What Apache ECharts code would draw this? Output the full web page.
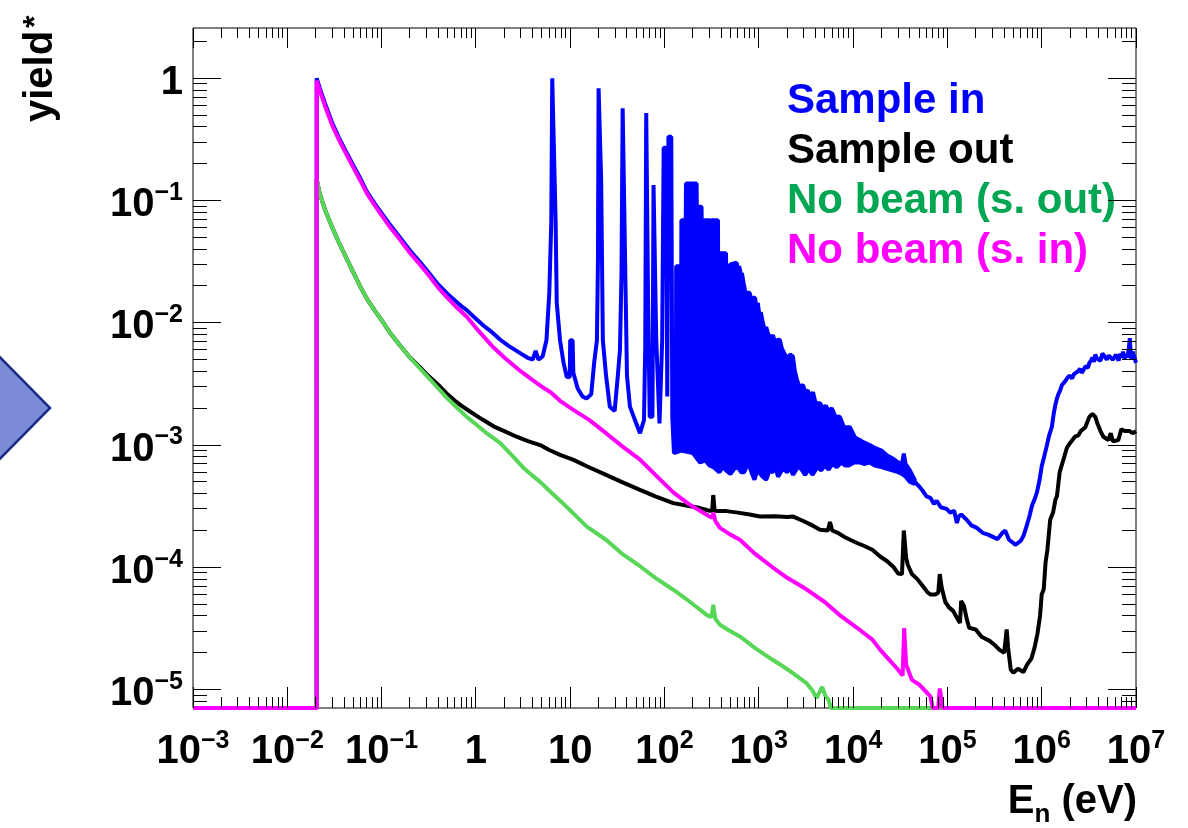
<!DOCTYPE html>
<html>
<head>
<meta charset="utf-8">
<script src="https://cdn.jsdelivr.net/npm/echarts@6/dist/echarts.min.js"></script>
<style>
html,body{margin:0;padding:0;background:#fff;}
#chart{width:1188px;height:828px;}
</style>
</head>
<body>
<div id="chart"></div>
<script>
// ---- axis ranges & tick decades ----
const X_MIN = 1e-3, X_MAX = 1e7;
const Y_MIN = 7.06e-6, Y_MAX = 2.58;   // empty bins are drawn on the axis floor (Y_MIN)
const X_DECADES = [-3, -2, -1, 0, 1, 2, 3, 4, 5, 6, 7];
const Y_DECADES = [-6, -5, -4, -3, -2, -1, 0];

// ---- legend names ----
const NAMES = ['Sample in', 'Sample out', 'No beam (s. out)', 'No beam (s. in)'];

// ---- series data: [E (eV), yield] ----
// Sample in: thermal part and resolved resonances
const SAMPLE_IN_LOW = [
 [1e-3, Y_MIN], [0.0205, Y_MIN], [0.0205, 1.0],
 [0.022, 0.84], [0.025, 0.63], [0.03, 0.43], [0.035, 0.33], [0.04, 0.27], [0.05, 0.195], [0.06, 0.15],
 [0.07, 0.118], [0.085, 0.094], [0.1, 0.079], [0.12, 0.065], [0.15, 0.052], [0.2, 0.039], [0.25, 0.032],
 [0.3, 0.027], [0.4, 0.0205], [0.5, 0.0172], [0.6, 0.0152], [0.7, 0.0137], [0.8, 0.0127], [1.0, 0.0108],
 [1.2, 0.0095], [1.5, 0.0083], [1.8, 0.0073], [2.2, 0.0065], [2.6, 0.006], [3.0, 0.0056], [3.5, 0.0052],
 [4.0, 0.0050], [4.3, 0.0059], [4.6, 0.0050], [5.1, 0.0053], [5.6, 0.0072], [6.0, 0.0175], [6.3, 0.067],
 [6.45, 1.0], [6.75, 1.0], [7.0, 0.07], [7.2, 0.0146], [7.8, 0.0072], [8.5, 0.0047], [9.2, 0.0036],
 [9.9, 0.0036], [10.0, 0.0072], [10.6, 0.0072], [10.8, 0.0039], [12.0, 0.0029], [13.5, 0.0025],
 [14.9, 0.0024], [16.7, 0.0026], [18.0, 0.0048], [19.2, 0.0072], [19.7, 0.033], [20.0, 0.83], [20.6, 0.83],
 [21.3, 0.148], [22.2, 0.0072], [24, 0.0037], [26.3, 0.00206], [29.6, 0.0019], [32, 0.0037], [33.7, 0.006],
 [35, 0.0255], [36, 0.57], [37, 0.57], [38.6, 0.02], [40, 0.0037], [43, 0.00206], [48.6, 0.0016],
 [55, 0.00125], [60.6, 0.0016], [62.5, 0.0065], [64, 0.52], [65.5, 0.52], [67, 0.0146], [69.7, 0.0017],
 [74.5, 0.0017], [76.5, 0.134], [78.5, 0.134], [81.8, 0.0072], [88.5, 0.0015], [94.5, 0.0072],
 [98, 0.27], [104, 0.27], [107, 0.0025], [110, 0.333], [118, 0.333], [121, 0.0017], [126, 0.00086]
];
// Sample in: unresolved-resonance forest, upper envelope and lower floor
const FOREST_TOP = [
 [126, 0.0017], [132, 0.0017], [133, 0.029], [145, 0.029], [146, 0.009], [150, 0.009], [151, 0.069],
 [168, 0.069], [169, 0.138], [219, 0.138], [220, 0.089], [247, 0.089], [248, 0.069], [305, 0.069],
 [306, 0.006], [314, 0.006], [315, 0.069], [369, 0.069], [370, 0.037], [449, 0.037], [450, 0.027],
 [500, 0.03], [582, 0.031], [600, 0.027], [620, 0.029], [645, 0.025], [663, 0.0255], [690, 0.021],
 [713, 0.0186], [740, 0.0165], [770, 0.0178], [805, 0.0174], [840, 0.0145], [870, 0.016], [912, 0.016],
 [940, 0.0135], [977, 0.0145], [1010, 0.0118], [1050, 0.0122], [1107, 0.0099], [1150, 0.0089],
 [1200, 0.0092], [1250, 0.0082], [1320, 0.0074], [1413, 0.0079], [1500, 0.0068], [1600, 0.0073],
 [1676, 0.0072], [1750, 0.0062], [1893, 0.0055], [2000, 0.005], [2139, 0.0055], [2301, 0.0053],
 [2400, 0.0041], [2541, 0.0034], [2700, 0.003], [2943, 0.0031], [3100, 0.0027], [3311, 0.0028],
 [3500, 0.0025], [3758, 0.0027], [4000, 0.0022], [4463, 0.0022], [4800, 0.002], [5129, 0.0021],
 [5500, 0.0019], [5956, 0.002], [6500, 0.0017], [7244, 0.0017], [8000, 0.0014], [9247, 0.0014],
 [10500, 0.00115], [11750, 0.0011], [13000, 0.00105], [15000, 0.001], [17000, 0.00095], [20000, 0.0009],
 [23000, 0.00082], [26000, 0.00078], [30000, 0.00072], [33000, 0.0007], [34500, 0.00085], [36000, 0.0007],
 [40000, 0.00062], [45000, 0.00052]
];
const FOREST_FLOOR = [
 [126, 0.00086], [150, 0.0009], [200, 0.00086], [238, 0.00072], [270, 0.00075], [300, 0.00068],
 [329, 0.00066], [380, 0.0006], [420, 0.00066], [450, 0.00062], [500, 0.00058], [550, 0.00064],
 [600, 0.00066], [650, 0.0006], [700, 0.0006], [750, 0.00068], [800, 0.00066], [850, 0.00058],
 [900, 0.00052], [950, 0.0006], [1000, 0.0006], [1100, 0.00055], [1200, 0.00052], [1300, 0.00062],
 [1400, 0.0006], [1500, 0.00066], [1600, 0.00055], [1800, 0.00064], [2000, 0.0006], [2150, 0.00066],
 [2300, 0.00057], [2600, 0.00066], [2800, 0.00064], [3100, 0.00057], [3400, 0.00064], [3700, 0.00057],
 [4200, 0.00066], [4600, 0.00062], [5000, 0.00068], [5500, 0.00063], [6000, 0.0007], [6700, 0.00066],
 [7500, 0.00072], [8200, 0.00068], [9000, 0.00068], [10200, 0.00072], [11750, 0.00072], [13000, 0.0007],
 [15000, 0.00072], [17000, 0.00068], [20000, 0.00066], [23000, 0.00064], [26000, 0.00062], [30000, 0.0006],
 [33000, 0.00058], [36000, 0.00055], [40000, 0.0005], [45000, 0.00048]
];
// Sample in: fast-neutron part
const SAMPLE_IN_HIGH = [
 [45000, 0.0005], [50000, 0.00046], [55000, 0.00042], [60000, 0.00038],
 [66000, 0.00037], [72000, 0.00033], [77000, 0.00035], [85000, 0.00031], [98000, 0.0003], [107000, 0.00028],
 [118000, 0.00029], [126000, 0.00023], [132000, 0.00026], [140000, 0.00027], [160000, 0.000245],
 [180000, 0.00022], [205000, 0.00021], [240000, 0.00019], [270000, 0.000185], [300000, 0.000178],
 [340000, 0.00017], [380000, 0.00019], [410000, 0.0002], [450000, 0.000168], [490000, 0.00016],
 [524000, 0.000153], [560000, 0.000158], [600000, 0.000165], [640000, 0.00018], [690000, 0.000216],
 [740000, 0.00026], [790000, 0.00032], [840000, 0.00036], [890000, 0.00041], [950000, 0.00052],
 [1000000, 0.00067], [1060000, 0.0008], [1130000, 0.00098], [1200000, 0.0012], [1280000, 0.0014],
 [1340000, 0.0018], [1390000, 0.0021], [1450000, 0.0024], [1500000, 0.0026], [1570000, 0.0028],
 [1640000, 0.0031], [1700000, 0.0032], [1760000, 0.0033], [1820000, 0.0034], [1900000, 0.0036],
 [2000000, 0.0037], [2100000, 0.0035], [2200000, 0.0038], [2300000, 0.0037], [2420000, 0.0040],
 [2550000, 0.0042], [2650000, 0.0039], [2770000, 0.0041], [2900000, 0.0044], [3000000, 0.0045],
 [3100000, 0.0043], [3200000, 0.0047], [3330000, 0.0049], [3450000, 0.0052], [3580000, 0.0048],
 [3700000, 0.0055], [3850000, 0.0051], [4000000, 0.0052], [4200000, 0.0049], [4400000, 0.0056],
 [4650000, 0.0053], [4900000, 0.005], [5150000, 0.0054], [5400000, 0.0055], [5650000, 0.005],
 [5900000, 0.0052], [6100000, 0.0055], [6300000, 0.0053], [6550000, 0.0049], [6800000, 0.0056],
 [7050000, 0.0052], [7300000, 0.0058], [7600000, 0.0051], [7900000, 0.0055], [8150000, 0.0052],
 [8400000, 0.0062], [8600000, 0.0075], [8800000, 0.0054], [9000000, 0.005], [9200000, 0.0058],
 [9400000, 0.0056], [9700000, 0.0051], [10000000, 0.0047]
];

const SAMPLE_OUT = [
 [1e-3, Y_MIN], [0.0205, Y_MIN], [0.0205, 0.15], [0.022, 0.115], [0.025, 0.085], [0.03, 0.06], [0.035, 0.046],
 [0.04, 0.037], [0.05, 0.026], [0.06, 0.0195], [0.07, 0.0157], [0.085, 0.0125], [0.1, 0.0105], [0.12, 0.0085],
 [0.15, 0.0068], [0.2, 0.0052], [0.25, 0.0044], [0.3, 0.0038], [0.4, 0.0031], [0.5, 0.0026], [0.6, 0.0023],
 [0.7, 0.0021], [0.85, 0.0019], [1.0, 0.00175], [1.2, 0.0016], [1.6, 0.0014], [2.0, 0.0013], [2.7, 0.00117],
 [3.5, 0.00108], [4.8, 0.001], [6.0, 0.00091], [7.8, 0.00083], [10.7, 0.00076], [15, 0.00067], [24, 0.00057],
 [35, 0.0005], [55, 0.00043], [80, 0.00038], [124, 0.000335], [170, 0.00032], [238, 0.000305], [300, 0.00029],
 [320, 0.00029], [329, 0.00039], [340, 0.00029], [380, 0.000288], [455, 0.000288], [600, 0.00028],
 [800, 0.00027], [1030, 0.00026], [1500, 0.000262], [2000, 0.000258], [2320, 0.00026], [3000, 0.000238],
 [3700, 0.00022], [4460, 0.000203], [5400, 0.0002], [5690, 0.000235], [6000, 0.0002], [7000, 0.00019],
 [8000, 0.000178], [9300, 0.000168], [11000, 0.000158], [13000, 0.00015], [16000, 0.000139],
 [19500, 0.000122], [23000, 0.000112], [27000, 0.0001], [30000, 0.000089], [33000, 0.000088],
 [34500, 0.0002], [36500, 0.00012], [38000, 0.000105], [42000, 0.000088], [48000, 0.00008], [55000, 0.00007],
 [62000, 0.000062], [66000, 0.00006], [75000, 0.00006], [80000, 0.000062], [83000, 0.000088],
 [87000, 0.000068], [95000, 0.000052], [104000, 0.000047], [115000, 0.000044], [130000, 0.000037],
 [136000, 0.000035], [140000, 0.000053], [150000, 0.000048], [160000, 0.000038], [170000, 0.000032],
 [200000, 0.000031], [230000, 0.000027], [280000, 0.000025], [320000, 0.000023], [360000, 0.000021],
 [400000, 0.00002], [425000, 0.000031], [440000, 0.000022], [470000, 0.0000145], [500000, 0.0000137],
 [560000, 0.0000148], [640000, 0.0000139], [700000, 0.000016], [780000, 0.000018], [840000, 0.000022],
 [900000, 0.0000284], [960000, 0.00004], [1000000, 0.00006], [1050000, 0.000066], [1100000, 0.00011],
 [1150000, 0.00014], [1230000, 0.000245], [1320000, 0.00028], [1400000, 0.00036], [1450000, 0.00038],
 [1550000, 0.0006], [1700000, 0.00076], [1850000, 0.00095], [2000000, 0.00104], [2250000, 0.00117],
 [2450000, 0.0012], [2600000, 0.0013], [2900000, 0.0014], [3200000, 0.0017], [3450000, 0.0018],
 [3700000, 0.0017], [3900000, 0.0015], [4200000, 0.0013], [4500000, 0.00117], [5100000, 0.0011],
 [5400000, 0.00125], [5700000, 0.00107], [6500000, 0.0011], [7000000, 0.00135], [7600000, 0.0013],
 [8500000, 0.0013], [9300000, 0.00125], [10000000, 0.0013]
];

const NO_BEAM_OUT = [
 [1e-3, Y_MIN], [0.0205, Y_MIN], [0.0205, 0.15], [0.022, 0.115], [0.025, 0.085], [0.03, 0.06], [0.035, 0.046],
 [0.04, 0.037], [0.05, 0.026], [0.06, 0.0195], [0.07, 0.0157], [0.085, 0.0125], [0.1, 0.0105], [0.12, 0.0085],
 [0.15, 0.0068], [0.2, 0.0052], [0.25, 0.0043], [0.3, 0.0037], [0.4, 0.0029], [0.5, 0.0024], [0.62, 0.00205],
 [0.8, 0.0017], [1.0, 0.00148], [1.3, 0.00125], [1.8, 0.00104], [2.5, 0.0008], [3.2, 0.00065], [4.0, 0.00056],
 [4.8, 0.0005], [6.5, 0.0004], [8.5, 0.00033], [10.7, 0.000277], [15, 0.000215], [24, 0.000168], [35, 0.00013],
 [55, 0.000102], [80, 0.000082], [124, 0.0000655], [170, 0.000055], [215, 0.0000478], [280, 0.0000408],
 [315, 0.000039], [329, 0.0000493], [345, 0.000038], [387, 0.0000339], [500, 0.00003], [630, 0.0000272],
 [900, 0.000022], [1400, 0.0000175], [1800, 0.0000155], [2300, 0.0000136], [3200, 0.0000113],
 [3700, 0.0000098], [4100, 0.0000085], [4400, 0.0000095], [4700, 0.0000105], [5100, 0.0000088],
 [5500, 0.0000082], [5800, Y_MIN], [10000000, Y_MIN]
];

const NO_BEAM_IN = [
 [1e-3, Y_MIN], [0.0205, Y_MIN], [0.0205, 0.96], [0.022, 0.8], [0.025, 0.6], [0.03, 0.41], [0.035, 0.318],
 [0.04, 0.26], [0.05, 0.187], [0.06, 0.144], [0.07, 0.114], [0.085, 0.091], [0.1, 0.076], [0.12, 0.062],
 [0.15, 0.05], [0.2, 0.0372], [0.25, 0.0305], [0.3, 0.0258], [0.4, 0.0193], [0.5, 0.0160], [0.6, 0.0138],
 [0.8, 0.0112], [1.0, 0.0091], [1.25, 0.0075], [1.5, 0.0064], [2.0, 0.0052], [2.5, 0.0045], [3.0, 0.0040],
 [4.0, 0.0034], [5.0, 0.0030], [6.2, 0.0027], [7.8, 0.0023], [10.7, 0.00195], [16, 0.0016], [24, 0.00125],
 [36, 0.00097], [55, 0.00076], [80, 0.00057], [124, 0.00041], [180, 0.00033], [238, 0.00029], [300, 0.00026],
 [322, 0.000255], [330, 0.00028], [345, 0.00024], [387, 0.00021], [500, 0.000185], [630, 0.000168],
 [900, 0.00013], [1400, 0.0001], [2000, 0.000082], [3200, 0.000066], [5000, 0.000052], [7400, 0.00004],
 [11000, 0.000032], [16000, 0.0000256], [19500, 0.000021], [25000, 0.000017], [30000, 0.0000145],
 [33500, 0.000013], [34800, 0.0000318], [36500, 0.000016], [42000, 0.000012], [50000, 0.000011],
 [60000, 0.0000095], [66000, 0.0000088], [70000, Y_MIN], [80000, Y_MIN], [83000, 0.0000102],
 [87000, 0.0000102], [89000, Y_MIN], [10000000, Y_MIN]
];

// ---- styling ----
const FONT = '"Liberation Sans", Arial, Helvetica, sans-serif';
const LINE_COLORS = ['#0000ff', '#000000', '#57d657', '#ff00ff'];
const TEXT_COLORS = ['#0000ff', '#000000', '#00a651', '#ff00ff'];

// tick value lists (major at decades, minor at 2..9 x decade)
function buildTicks(decades, lo, hi) {
  const out = [];
  decades.forEach(function (d) {
    for (let m = 1; m <= 9; m++) {
      const v = m * Math.pow(10, d);
      if (v >= lo * 0.9999 && v <= hi * 1.0001) out.push([v, m === 1 ? 1 : 0]);
    }
  });
  return out;
}
const xTicks = buildTicks(X_DECADES, X_MIN, X_MAX).map(function (t) { return [t[0], 1, t[1]]; });
const yTicks = buildTicks(Y_DECADES, Y_MIN, Y_MAX).map(function (t) { return [1, t[0], t[1]]; });

function expLabel(v) {
  const lg = Math.log10(v);
  const e = Math.round(lg);
  if (Math.abs(lg - e) > 1e-6) return '';
  if (e === 0) return '{b|1}';
  if (e === 1) return '{b|10}';
  return '{b|10}{s|' + (e < 0 ? '\u2212' + (-e) : String(e)) + '}';
}
function makeRich(padTop) {
  return {
    b: { fontSize: 40, fontWeight: 'bold', fontFamily: FONT, color: '#000', lineHeight: 40, padding: [padTop, 0, 0, 0] },
    s: { fontSize: 25, fontWeight: 'bold', fontFamily: FONT, color: '#000', lineHeight: 25, verticalAlign: 'top' }
  };
}

const chart = echarts.init(document.getElementById('chart'), null, { renderer: 'canvas' });

function crisp(v) { return Math.round(v - 0.5) + 0.5; }

function lineSeries(name, data, color, z) {
  return {
    name: name, type: 'line', data: data, showSymbol: false, symbol: 'none', clip: false,
    lineStyle: { color: color, width: 4, join: 'bevel' }, itemStyle: { color: color }, z: z, silent: true
  };
}

const option = {
  animation: false,
  backgroundColor: '#fff',
  grid: { left: 193, top: 28, width: 943, height: 680, show: true, borderColor: '#000', borderWidth: 1, backgroundColor: 'transparent' },
  xAxis: {
    type: 'log', logBase: 10, min: X_MIN, max: X_MAX, interval: 1,
    axisLine: { show: false }, axisTick: { show: false }, splitLine: { show: false },
    axisLabel: { formatter: expLabel, rich: makeRich(6), margin: 21, showMinLabel: true, showMaxLabel: true, hideOverlap: false }
  },
  yAxis: {
    type: 'log', logBase: 10, min: Y_MIN, max: Y_MAX, splitNumber: 6,
    axisLine: { show: false }, axisTick: { show: false }, splitLine: { show: false },
    axisLabel: { formatter: expLabel, rich: makeRich(9), margin: 10 }
  },
  legend: {
    orient: 'vertical', left: 782, top: 76, padding: 0, itemWidth: 0, itemHeight: 0, itemGap: 0,
    selectedMode: false, icon: 'rect',
    itemStyle: { opacity: 0 }, lineStyle: { opacity: 0 },
    textStyle: { fontSize: 42, fontWeight: 'bold', fontFamily: FONT, lineHeight: 50 },
    data: NAMES.map(function (n, i) { return { name: n, textStyle: { color: TEXT_COLORS[i] } }; })
  },
  series: [
    lineSeries(NAMES[0], SAMPLE_IN_LOW, LINE_COLORS[0], 2),
    {
      // unresolved-resonance region of "Sample in": filled band between floor and envelope
      type: 'custom', data: [FOREST_TOP[0]], clip: false, silent: true, z: 2,
      renderItem: function (params, api) {
        const pts = FOREST_TOP.map(function (p) { return api.coord(p); });
        for (let i = FOREST_FLOOR.length - 1; i >= 0; i--) pts.push(api.coord(FOREST_FLOOR[i]));
        return { type: 'polygon', shape: { points: pts }, style: { fill: LINE_COLORS[0], stroke: LINE_COLORS[0], lineWidth: 4, lineJoin: 'bevel' } };
      }
    },
    lineSeries(NAMES[0], SAMPLE_IN_HIGH, LINE_COLORS[0], 2),
    lineSeries(NAMES[1], SAMPLE_OUT, LINE_COLORS[1], 3),
    lineSeries(NAMES[2], NO_BEAM_OUT, LINE_COLORS[2], 4),
    lineSeries(NAMES[3], NO_BEAM_IN, LINE_COLORS[3], 5),
    {
      type: 'custom', data: xTicks, clip: false, silent: true, z: 10,
      renderItem: function (params, api) {
        const cs = params.coordSys;
        const x = crisp(api.coord([api.value(0), 1])[0]);
        const major = api.value(2) === 1;
        const lb = major ? 21 : 11, lt = major ? 20 : 10;
        return { type: 'group', children: [
          { type: 'line', shape: { x1: x, y1: cs.y + cs.height, x2: x, y2: cs.y + cs.height - lb }, style: { stroke: '#000', lineWidth: 1 } },
          { type: 'line', shape: { x1: x, y1: cs.y, x2: x, y2: cs.y + lt }, style: { stroke: '#000', lineWidth: 1 } }
        ] };
      }
    },
    {
      type: 'custom', data: yTicks, clip: false, silent: true, z: 10,
      renderItem: function (params, api) {
        const cs = params.coordSys;
        const y = crisp(api.coord([1, api.value(1)])[1]);
        const major = api.value(2) === 1;
        const l = major ? 28 : 14;
        return { type: 'group', children: [
          { type: 'line', shape: { x1: cs.x, y1: y, x2: cs.x + l, y2: y }, style: { stroke: '#000', lineWidth: 1 } },
          { type: 'line', shape: { x1: cs.x + cs.width, y1: y, x2: cs.x + cs.width - l, y2: y }, style: { stroke: '#000', lineWidth: 1 } }
        ] };
      }
    }
  ],
  graphic: [
    {
      type: 'polygon', z: 0,
      shape: { points: [[-20, 337], [50, 408], [-20, 479]] },
      style: { fill: '#7b8bd6', stroke: '#1b2a8a', lineWidth: 2.5 }
    },
    {
      type: 'text', x: 41, y: 122, rotation: Math.PI / 2,
      style: { text: 'yield', fontSize: 40, fontWeight: 'bold', fontFamily: FONT, fill: '#000', align: 'left', verticalAlign: 'middle' }
    },
    {
      type: 'text', x: 36, y: 28, rotation: Math.PI / 2,
      style: { text: '*', fontSize: 32, fontWeight: 'bold', fontFamily: FONT, fill: '#000', align: 'left', verticalAlign: 'middle' }
    },
    {
      type: 'text', x: 1137, y: 782,
      style: {
        text: '{m|E}{sub|n}{m| (eV)}', align: 'right', verticalAlign: 'top',
        rich: {
          m: { fontSize: 40, fontWeight: 'bold', fontFamily: FONT, fill: '#000', color: '#000', lineHeight: 40, verticalAlign: 'top' },
          sub: { fontSize: 26, fontWeight: 'bold', fontFamily: FONT, fill: '#000', color: '#000', lineHeight: 26, verticalAlign: 'top', padding: [20, 0, 0, 0] }
        }
      }
    }
  ]
};
chart.setOption(option);
</script>
</body>
</html>
